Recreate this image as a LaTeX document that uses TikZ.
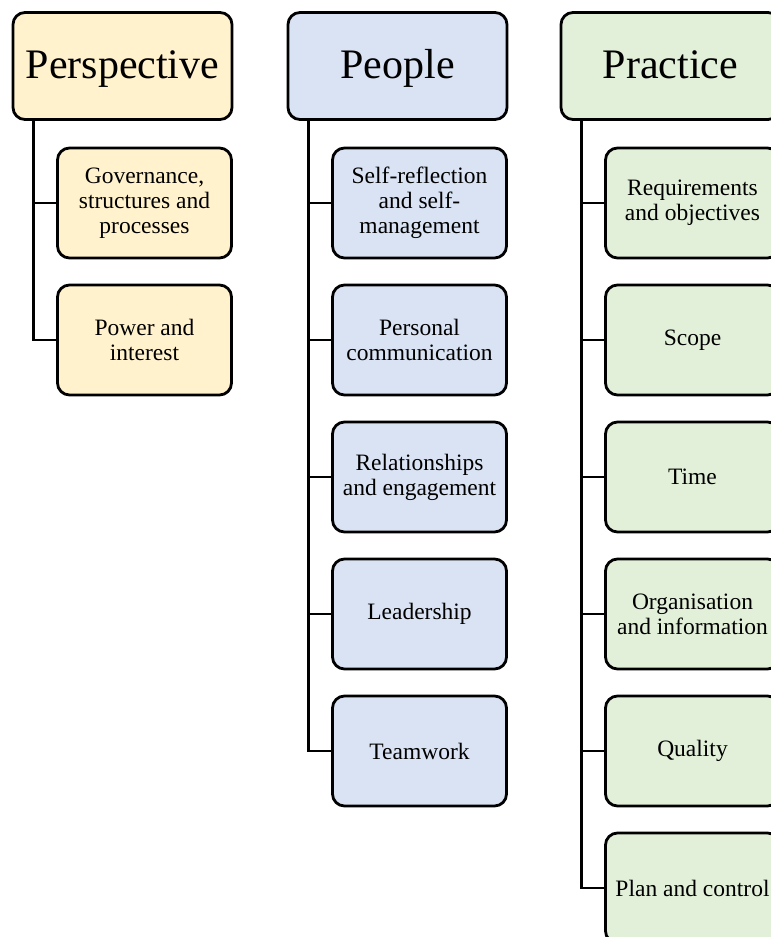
\documentclass[tikz,border=0pt]{standalone}
\usepackage{fontspec}
\setmainfont{Liberation Serif}
\usetikzlibrary{calc}
\definecolor{persp}{HTML}{FFF2CC}
\definecolor{peop}{HTML}{DAE3F3}
\definecolor{prac}{HTML}{E2F0D9}
\begin{document}
\begin{tikzpicture}[x=1pt,y=-1pt,
  box/.style={draw=black,line width=2.8pt,rounded corners=12pt,inner sep=0pt,align=center},
  head/.style={box,minimum width=219pt,minimum height=107pt,text height=30pt,text depth=6pt,font=\fontsize{42}{46}\selectfont},
  item/.style={box,minimum width=174pt,minimum height=110pt,font=\fontsize{23.5}{25}\selectfont},
  link/.style={line width=2.8pt}]
\useasboundingbox (0,0) rectangle (771,937);
% Perspective
\node[head,fill=persp] (A) at (122.5,66) {Perspective};
\node[item,fill=persp] (A1) at (144.5,203) {Governance,\\structures and\\processes};
\node[item,fill=persp] (A2) at (144.5,340) {Power and\\interest};
% People
\node[head,fill=peop] (B) at (397.5,66) {People};
\node[item,fill=peop] (B1) at (419.5,203) {Self-reflection\\and self-\\management};
\node[item,fill=peop] (B2) at (419.5,340) {Personal\\communication};
\node[item,fill=peop] (B3) at (419.5,477) {Relationships\\and engagement};
\node[item,fill=peop] (B4) at (419.5,614) {Leadership};
\node[item,fill=peop] (B5) at (419.5,751) {Teamwork};
% Practice
\node[head,fill=prac] (C) at (670.5,66) {Practice};
\node[item,fill=prac] (C1) at (692.5,203) {Requirements\\and objectives};
\node[item,fill=prac] (C2) at (692.5,340) {Scope};
\node[item,fill=prac] (C3) at (692.5,477) {Time};
\node[item,fill=prac] (C4) at (692.5,614) {Organisation\\and information};
\node[item,fill=prac] (C5) at (692.5,751) {Quality};
\node[item,fill=prac] (C6) at (692.5,888) {Plan and control};
% connectors
\foreach \h/\c in {A/A1,A/A2,B/B1,B/B2,B/B3,B/B4,B/B5,C/C1,C/C2,C/C3,C/C4,C/C5,C/C6}{
  \draw[link] ($(\h.south west)+(22,0)$) |- (\c.west);
}
\end{tikzpicture}
\end{document}
